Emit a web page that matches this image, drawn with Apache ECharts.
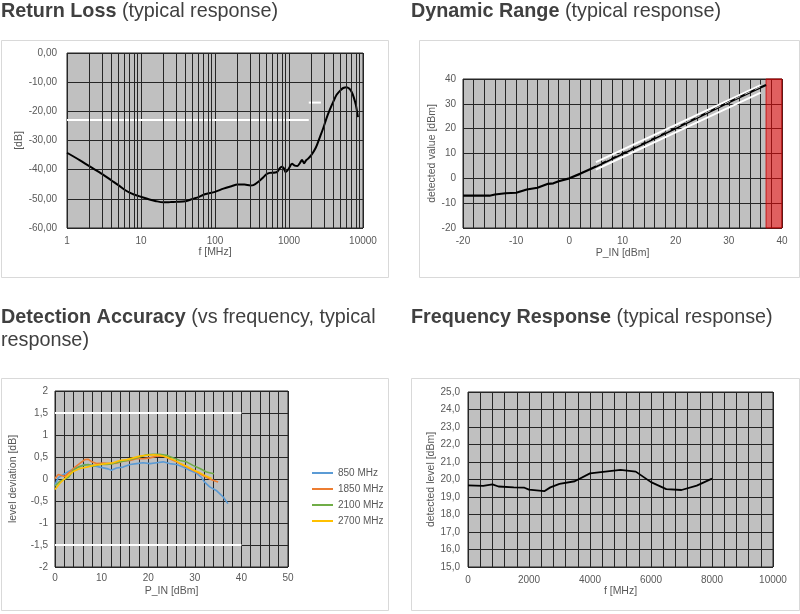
<!DOCTYPE html>
<html><head><meta charset="utf-8">
<script src="https://cdn.jsdelivr.net/npm/echarts@6/dist/echarts.min.js"></script>
<style>html,body{margin:0;padding:0;background:#fff}#c{width:800px;height:614px}</style>
</head><body><div id="c"></div><script>
// ---------- Data ----------
// Return Loss
const rlFreq = [1,1.5,2,3,4,5,6,7,8,10,13,16,20,25,30,40,50,60,70,80,100,130,170,200,250,300,330,400,450,500,550,650,700,750,800,850,900,950,1000,1100,1200,1300,1400,1500,1600,1700,1800,2000,2300,2600,2900,3200,3550,4000,4400,5000,5400,6000,6500,7000,7500,8000,8550];
const rlDb = [-34.2,-36.8,-38.8,-41.5,-43.7,-45.4,-46.9,-47.9,-48.5,-49.3,-50.2,-50.8,-51.2,-51.1,-51.0,-50.8,-50.0,-49.4,-48.6,-48.2,-47.6,-46.5,-45.6,-45.1,-45.1,-45.4,-45.3,-43.8,-42.6,-41.5,-41.1,-41.0,-40.6,-39.5,-39.0,-39.5,-40.8,-40.3,-39.5,-38.0,-38.6,-38.7,-37.8,-36.7,-37.8,-36.8,-36.3,-35.0,-32.5,-29.0,-25.8,-22.5,-19.5,-16.5,-14.3,-12.7,-12.0,-11.7,-12.2,-13.3,-15.2,-17.8,-22.0];
const rlLimit1X = [1,1850], rlLimit1Y = [-23,-23];
const rlLimit2X = [1850,2700], rlLimit2Y = [-17,-17];
const rlMinorGrid = [2,3,4,5,6,7,8,9,20,30,40,50,60,70,80,90,200,300,400,500,600,700,800,900,2000,3000,4000,5000,6000,7000,8000,9000];
const rlXTicks = [1,10,100,1000,10000];

// Dynamic Range
const drIn  = [-20,-15,-14,-12,-10,-8,-6,-5,-4,-3,-2,0,2,4,5,10,15,20,25,30,35,37];
const drOut = [-7,-7,-6.5,-6,-5.8,-4.5,-3.8,-3,-2.2,-2,-1.2,0,1.8,3.8,4.8,9.9,15,20.2,25.4,30.6,35.7,37.6];
const drTolX = [5,36], drTolUpper = [6.5,37.5], drTolLower = [3.5,34.5];
const drIdealX = [5,36], drIdealY = [5.2,36.9];
const drOverload = [37,40];

// Detection Accuracy
const daNames = ['850 MHz','1850 MHz','2100 MHz','2700 MHz'];
const da850x = [0,0.7,2.1,3.9,5.4,6.4,8.2,9.6,11.4,12.1,13.2,14.6,16.1,17.5,18.9,20.4,21.8,23.2,24.6,26.1,27.5,28.9,30.4,31.4,32.1,33.2,34.6,36.1,37.1];
const da850y = [-0.14,0.03,0.12,0.23,0.29,0.33,0.31,0.27,0.23,0.2,0.25,0.27,0.33,0.35,0.37,0.35,0.37,0.39,0.35,0.33,0.27,0.2,0.13,0.04,-0.07,-0.18,-0.26,-0.41,-0.56];
const da1850x = [0,0.7,1.4,2.1,3.2,4.3,5.4,6.4,7.1,7.9,8.9,10.4,11.8,13.2,14.6,16.1,17.5,18.9,20.4,21.8,23.2,24.6,26.1,27.5,28.9,30.4,31.8,33.2,34.2,35];
const da1850y = [0.01,0.1,0.08,0.06,0.16,0.27,0.36,0.44,0.45,0.39,0.35,0.36,0.35,0.36,0.41,0.42,0.46,0.46,0.48,0.52,0.52,0.46,0.39,0.31,0.24,0.16,0.08,0.0,-0.04,-0.07];
const da2100x = [0,1.1,2.1,2.9,3.9,5,6.1,7.1,8.2,9.6,11.1,12.5,13.9,15.4,16.8,18.2,19.6,21.1,22.5,23.9,25.4,26.8,28.2,29.6,31.1,32.5,34.1];
const da2100y = [-0.16,-0.05,0.0,0.04,0.2,0.27,0.31,0.33,0.29,0.33,0.33,0.35,0.39,0.42,0.46,0.5,0.55,0.56,0.56,0.54,0.48,0.42,0.39,0.31,0.24,0.16,0.12];
const da2700x = [0,1.1,2.5,3.9,5.4,6.8,8.2,9.6,11.1,12.5,13.9,15.4,16.8,18.2,19.6,21.1,22.5,23.9,25.4,26.8,28.2,29.6,31.1,32.5,33.6];
const da2700y = [-0.24,-0.09,0.05,0.17,0.24,0.27,0.31,0.33,0.35,0.37,0.42,0.44,0.48,0.52,0.54,0.55,0.54,0.5,0.44,0.36,0.29,0.21,0.14,0.06,0.01];
const daColors = ['#5b9bd5','#ed7d31','#70ad47','#ffc000'];
const daLimitX = [0,40], daLimitUp = [1.5,1.5], daLimitLo = [-1.5,-1.5];

// Frequency Response
const frX = [0,500,800,1000,1500,1850,2000,2500,2700,3000,3500,4000,4500,5000,5500,6000,6500,7000,7500,8000];
const frY = [19.67,19.63,19.72,19.6,19.55,19.53,19.42,19.33,19.55,19.75,19.9,20.35,20.45,20.55,20.45,19.85,19.45,19.4,19.65,20.05];

// ---------- Helpers ----------
const zip = (a,b) => a.map((v,i)=>[v,b[i]]);
const FONT = '"Liberation Sans", Arial, sans-serif';
const GRIDC = '#262626';
const LBL = '#595959';
const comma = s => String(s).replace('.', ',');

function xAx(grid, o) {
  return Object.assign({
    gridIndex: grid, type: 'value', nameLocation: 'middle',
    nameTextStyle: {color: LBL, fontSize: 10.5, fontFamily: FONT},
    axisLine: {show: false}, axisTick: {show: false},
    axisLabel: {color: LBL, fontSize: 10, fontFamily: FONT, margin: 8, formatter: v => String(v)},
    splitLine: {show: true, lineStyle: {color: GRIDC, width: 1}},
    minorSplitLine: {show: false, lineStyle: {color: GRIDC, width: 1}}
  }, o);
}
function yAx(grid, o) {
  return Object.assign({
    gridIndex: grid, type: 'value', nameLocation: 'middle', nameRotate: 90,
    nameTextStyle: {color: LBL, fontSize: 10.5, fontFamily: FONT},
    axisLine: {show: false}, axisTick: {show: false},
    axisLabel: {color: LBL, fontSize: 10, fontFamily: FONT, margin: 8},
    splitLine: {show: true, lineStyle: {color: GRIDC, width: 1}}
  }, o);
}
const gridBase = {show: true, backgroundColor: '#c0c0c0', borderColor: GRIDC, borderWidth: 1, containLabel: false};
const TS = 19.8;
const titleRich = {
  b: {fontWeight: 'bold', fontSize: TS, color: '#404040', fontFamily: FONT, lineHeight: 23},
  n: {fontWeight: 'normal', fontSize: TS, color: '#404040', fontFamily: FONT, lineHeight: 23}
};
function box(x,y,w,h){return {type:'rect', shape:{x,y,width:w,height:h}, style:{fill:'none', stroke:'#d9d9d9', lineWidth:1}, silent:true, z:-10};}
const titleStyle = {fontWeight: 'normal', fontSize: TS, fontFamily: FONT, color: '#404040', rich: titleRich};

const chart = echarts.init(document.getElementById('c'));
chart.setOption({
  animation: false,
  backgroundColor: '#fff',
  title: [
    {left: 1, top: 0, padding: 0, text: '{b|Return Loss} {n|(typical response)}', textStyle: titleStyle},
    {left: 411, top: 0, padding: 0, text: '{b|Dynamic Range} {n|(typical response)}', textStyle: titleStyle},
    {left: 1, top: 306, padding: 0, text: '{b|Detection Accuracy} {n|(vs frequency, typical}\n{n|response)}', textStyle: titleStyle},
    {left: 411, top: 306, padding: 0, text: '{b|Frequency Response} {n|(typical response)}', textStyle: titleStyle}
  ],
  graphic: [box(1.5,40.5,387,237), box(419.5,40.5,380,237), box(1.5,378.5,387,232), box(411.5,378.5,388,232)],
  legend: {
    data: daNames, orient: 'vertical', left: 307, top: 463, itemWidth: 21, itemHeight: 2, itemGap: 6,
    icon: 'rect', textStyle: {color: LBL, fontSize: 10, fontFamily: FONT}, selectedMode: false
  },
  grid: [
    Object.assign({left: 67, top: 53, width: 296, height: 175}, gridBase),
    Object.assign({left: 463, top: 79, width: 319, height: 149}, gridBase),
    Object.assign({left: 55, top: 391, width: 233, height: 176}, gridBase),
    Object.assign({left: 468, top: 392, width: 305, height: 175}, gridBase)
  ],
  xAxis: [
    xAx(0, {type: 'log', logBase: 10, min: rlXTicks[0], max: rlXTicks[rlXTicks.length-1], name: 'f [MHz]', nameGap: 17}),
    xAx(1, {min: -20, max: 40, interval: 10, name: 'P_IN [dBm]', nameGap: 20,
      minorTick: {show: false, splitNumber: 5}, minorSplitLine: {show: true, lineStyle: {color: GRIDC, width: 1}}}),
    xAx(2, {min: 0, max: 50, interval: 10, name: 'P_IN [dBm]', nameGap: 19,
      axisLabel: {color: LBL, fontSize: 10, fontFamily: FONT, margin: 6, formatter: v => String(v)},
      minorTick: {show: false, splitNumber: 5}, minorSplitLine: {show: true, lineStyle: {color: GRIDC, width: 1}}}),
    xAx(3, {min: 0, max: 10000, interval: 2000, name: 'f [MHz]', nameGap: 19,
      minorTick: {show: false, splitNumber: 5}, minorSplitLine: {show: true, lineStyle: {color: GRIDC, width: 1}}})
  ],
  yAxis: [
    yAx(0, {min: -60, max: 0, interval: 10, name: '[dB]', nameGap: 42,
      axisLabel: {color: LBL, fontSize: 10, fontFamily: FONT, margin: 10, formatter: v => v.toFixed(2).replace('.', ',')}}),
    yAx(1, {min: -20, max: 40, interval: 10, name: 'detected value [dBm]', nameGap: 25,
      axisLabel: {color: LBL, fontSize: 10, fontFamily: FONT, margin: 7}}),
    yAx(2, {min: -2, max: 2, interval: 0.5, name: 'level deviation [dB]', nameGap: 36,
      axisLabel: {color: LBL, fontSize: 10, fontFamily: FONT, margin: 7, formatter: v => comma(v)}}),
    yAx(3, {min: 15, max: 25, interval: 1, name: 'detected level [dBm]', nameGap: 29,
      axisLabel: {color: LBL, fontSize: 10, fontFamily: FONT, margin: 8, formatter: v => v.toFixed(1).replace('.', ',')}})
  ],
  series: [
    // Return loss minor log grid lines
    {type: 'line', xAxisIndex: 0, yAxisIndex: 0, data: [], z: 1, silent: true,
      markLine: {silent: true, symbol: ['none','none'], label: {show: false}, animation: false,
        lineStyle: {color: GRIDC, width: 1, type: 'solid'}, emphasis: {disabled: true},
        data: rlMinorGrid.map(v => ({xAxis: v}))}},
    {type: 'line', xAxisIndex: 0, yAxisIndex: 0, data: zip(rlLimit1X, rlLimit1Y), symbol: 'none', z: 3,
      lineStyle: {color: '#ffffff', width: 2}, silent: true},
    {type: 'line', xAxisIndex: 0, yAxisIndex: 0, data: zip(rlLimit2X, rlLimit2Y), symbol: 'none', z: 3,
      lineStyle: {color: '#ffffff', width: 2}, silent: true},
    {type: 'line', xAxisIndex: 0, yAxisIndex: 0, data: zip(rlFreq, rlDb), symbol: 'none', smooth: 0.3, z: 4,
      lineStyle: {color: '#000000', width: 2}, silent: true},

    // Dynamic range
    {type: 'line', xAxisIndex: 1, yAxisIndex: 1, data: zip(drTolX, drTolUpper), symbol: 'none', z: 3,
      lineStyle: {color: '#ffffff', width: 2}, silent: true},
    {type: 'line', xAxisIndex: 1, yAxisIndex: 1, data: zip(drTolX, drTolLower), symbol: 'none', z: 3,
      lineStyle: {color: '#ffffff', width: 2}, silent: true},
    {type: 'line', xAxisIndex: 1, yAxisIndex: 1, data: zip(drIn, drOut), symbol: 'none', z: 4,
      lineStyle: {color: '#000000', width: 2.2}, silent: true,
      markArea: {silent: true, itemStyle: {color: 'rgba(255,0,0,0.5)', borderColor: 'rgba(190,0,0,0.8)', borderWidth: 1},
        data: [[{xAxis: drOverload[0]}, {xAxis: drOverload[1]}]]}},
    {type: 'line', xAxisIndex: 1, yAxisIndex: 1, data: zip(drIdealX, drIdealY), symbol: 'none', z: 5,
      lineStyle: {color: '#bdbdbd', width: 1, type: [6,5]}, silent: true},

    // Detection accuracy
    {type: 'line', xAxisIndex: 2, yAxisIndex: 2, data: zip(daLimitX, daLimitUp), symbol: 'none', z: 3,
      lineStyle: {color: '#ffffff', width: 2}, silent: true},
    {type: 'line', xAxisIndex: 2, yAxisIndex: 2, data: zip(daLimitX, daLimitLo), symbol: 'none', z: 3,
      lineStyle: {color: '#ffffff', width: 2}, silent: true},
    {name: daNames[0], type: 'line', xAxisIndex: 2, yAxisIndex: 2, data: zip(da850x, da850y), symbol: 'none', z: 4,
      color: daColors[0], lineStyle: {color: daColors[0], width: 1.6}, silent: true},
    {name: daNames[1], type: 'line', xAxisIndex: 2, yAxisIndex: 2, data: zip(da1850x, da1850y), symbol: 'none', z: 4,
      color: daColors[1], lineStyle: {color: daColors[1], width: 1.6}, silent: true},
    {name: daNames[2], type: 'line', xAxisIndex: 2, yAxisIndex: 2, data: zip(da2100x, da2100y), symbol: 'none', z: 4,
      color: daColors[2], lineStyle: {color: daColors[2], width: 1.6}, silent: true},
    {name: daNames[3], type: 'line', xAxisIndex: 2, yAxisIndex: 2, data: zip(da2700x, da2700y), symbol: 'none', z: 4,
      color: daColors[3], lineStyle: {color: daColors[3], width: 1.6}, silent: true},

    // Frequency response
    {type: 'line', xAxisIndex: 3, yAxisIndex: 3, data: zip(frX, frY), symbol: 'none', z: 4,
      lineStyle: {color: '#000000', width: 1.8}, silent: true}
  ]
});
</script></body></html>
